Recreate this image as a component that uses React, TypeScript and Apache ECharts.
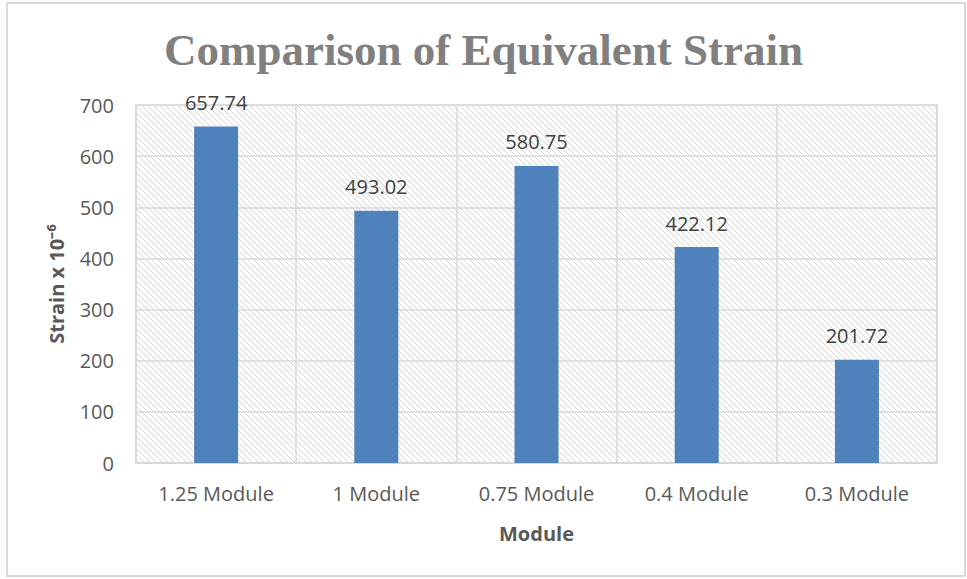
import React, { useEffect, useRef } from "react";
import * as echarts from "echarts";

const categories = ["1.25 Module", "1 Module", "0.75 Module", "0.4 Module", "0.3 Module"];
const strainValues = [657.74, 493.02, 580.75, 422.12, 201.72];
const yTicks = { min: 0, max: 700, interval: 100 };

const hatchSvg =
  "data:image/svg+xml;charset=utf-8," +
  encodeURIComponent(
    '<svg xmlns="http://www.w3.org/2000/svg" width="6" height="6">' +
      '<path d="M-1,-1 L7,7 M-1,5 L1,7 M5,-1 L7,1" stroke="#d6d6d6" stroke-width="1"/>' +
      "</svg>"
  );

export default function App() {
  const ref = useRef<HTMLDivElement>(null);
  useEffect(() => {
    document.body.style.margin = "0";
    const chart = echarts.init(ref.current!, null, { renderer: "svg" });
    chart.setOption({
      animation: false,
      backgroundColor: "#ffffff",
      title: {
        text: "Comparison of Equivalent Strain",
        left: "center",
        top: 22,
        textStyle: {
          fontFamily: "Liberation Serif",
          fontWeight: "bold",
          fontSize: 45,
          color: "#808080",
        },
      },
      graphic: [
        {
          type: "rect",
          shape: { x: 7, y: 3, width: 958, height: 573 },
          style: { fill: "none", stroke: "#d9d9d9", lineWidth: 2 },
          silent: true,
        },
      ],
      grid: {
        left: 136,
        top: 105,
        width: 801,
        height: 358,
        show: true,
        borderColor: "#d9d9d9",
        borderWidth: 1.5,
        backgroundColor: { image: hatchSvg, repeat: "repeat" },
      },
      xAxis: {
        type: "category",
        data: categories,
        name: "Module",
        nameLocation: "middle",
        nameGap: 60,
        nameTextStyle: {
          fontFamily: "Open Sans",
          fontWeight: "bold",
          fontSize: 20,
          color: "#595959",
        },
        axisLine: { show: true, lineStyle: { color: "#d9d9d9", width: 1.5 } },
        axisTick: { show: false },
        axisLabel: {
          fontFamily: "Open Sans",
          fontSize: 20,
          color: "#595959",
          margin: 20,
        },
        splitLine: { show: true, lineStyle: { color: "#d9d9d9", width: 1.5 } },
      },
      yAxis: {
        type: "value",
        min: yTicks.min,
        max: yTicks.max,
        interval: yTicks.interval,
        name: "Strain x 10⁻⁶",
        nameLocation: "middle",
        nameGap: 70,
        nameTextStyle: {
          fontFamily: "Open Sans",
          fontWeight: "bold",
          fontSize: 20,
          color: "#595959",
        },
        axisLine: { show: false },
        axisTick: { show: false },
        axisLabel: {
          fontFamily: "Open Sans",
          fontSize: 20,
          color: "#595959",
          margin: 22,
        },
        splitLine: { show: true, lineStyle: { color: "#d9d9d9", width: 1.5 } },
      },
      series: [
        {
          type: "bar",
          data: strainValues,
          barWidth: 44,
          itemStyle: { color: "#4f81bd" },
          label: {
            show: true,
            position: "top",
            distance: 14,
            fontFamily: "Open Sans",
            fontSize: 20,
            color: "#404040",
            formatter: (p: any) => p.value.toFixed(2),
          },
        },
      ],
    });
    return () => chart.dispose();
  }, []);
  return <div ref={ref} style={{ width: 967, height: 579 }} />;
}
